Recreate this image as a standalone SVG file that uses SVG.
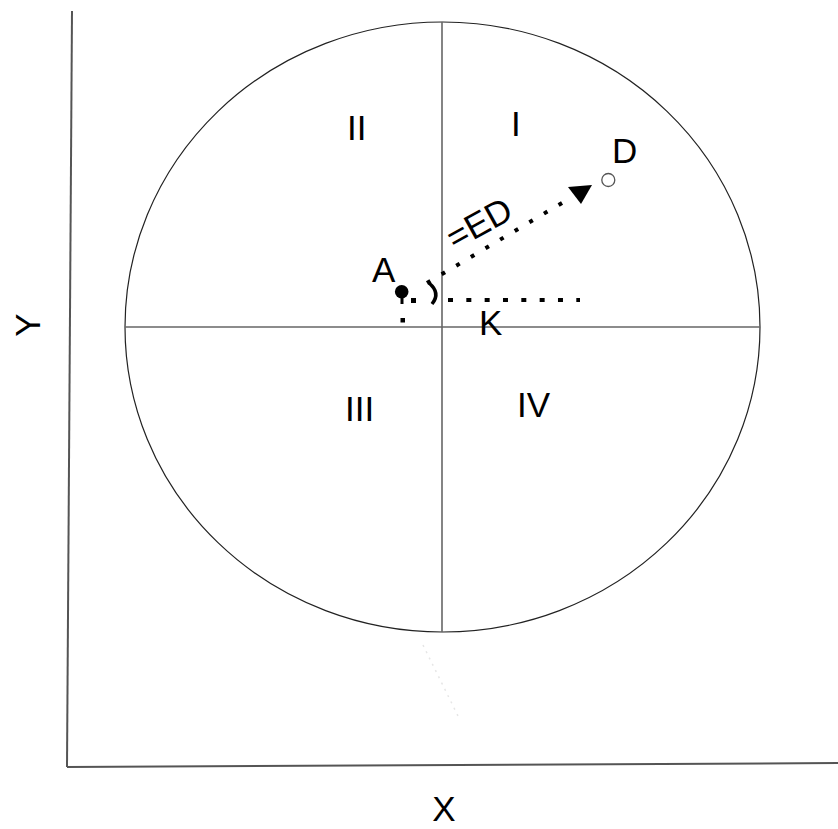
<svg xmlns="http://www.w3.org/2000/svg" width="838" height="829" viewBox="0 0 838 829">
<style>
.lbl{font-family:"Liberation Sans",Arial,sans-serif;font-size:35px;fill:#000}
.axis{stroke:#555;stroke-width:2;fill:none}
.quad{stroke:#666;stroke-width:1.6;fill:none}
.dot{stroke:#000;stroke-width:4;fill:none}
</style>
<rect width="838" height="829" fill="#fff"/>
<g id="axes">
<line class="axis" x1="72" y1="11" x2="67" y2="767"/>
<line class="axis" x1="67" y1="767" x2="838" y2="763"/>
<text class="lbl" x="40" y="325" text-anchor="middle" transform="rotate(-90 40 325)">Y</text>
<text class="lbl" x="444" y="821" text-anchor="middle">X</text>
</g>
<g id="circle">
<ellipse cx="442.5" cy="327" rx="317.5" ry="305" fill="none" stroke="#222" stroke-width="1.2"/>
<line class="quad" x1="442" y1="22" x2="442" y2="632"/>
<line class="quad" x1="125" y1="327" x2="760" y2="327"/>
</g>
<g id="quadrant-labels">
<text class="lbl" x="347" y="140">II</text>
<text class="lbl" x="511" y="136">I</text>
<text class="lbl" x="345" y="421">III</text>
<text class="lbl" x="517" y="417">IV</text>
</g>
<g id="pointA">
<circle cx="401.7" cy="291.7" r="6.8" fill="#000"/>
<text class="lbl" x="372" y="282">A</text>
</g>
<g id="pointD">
<circle cx="608.3" cy="180" r="6.5" fill="#fff" stroke="#555" stroke-width="1.3"/>
<text class="lbl" x="612" y="163">D</text>
</g>
<g id="pointK">
<text class="lbl" x="479" y="335">K</text>
</g>
<g id="connectors">
<line class="dot" x1="427" y1="283" x2="572" y2="197" stroke-dasharray="4 13"/>
<polygon points="568,187 592,185 581,204" fill="#000"/>
<line class="dot" x1="448" y1="300" x2="580" y2="300" stroke-dasharray="5 13.33"/>
<rect x="411" y="298" width="5" height="5" fill="#000"/>
<line x1="402" y1="296" x2="402" y2="304" stroke="#000" stroke-width="3"/>
<rect x="400.5" y="318" width="4.5" height="4.5" fill="#000"/>
<path d="M 429 283 Q 441 293 432 304" fill="none" stroke="#000" stroke-width="3.5"/>
<line x1="423" y1="645" x2="460" y2="720" stroke="#e6e6e6" stroke-width="1.5" stroke-dasharray="2 5"/>
<text class="lbl" x="485" y="234" text-anchor="middle" font-size="38" transform="rotate(-29 485 234)">=ED</text>
</g>
</svg>
